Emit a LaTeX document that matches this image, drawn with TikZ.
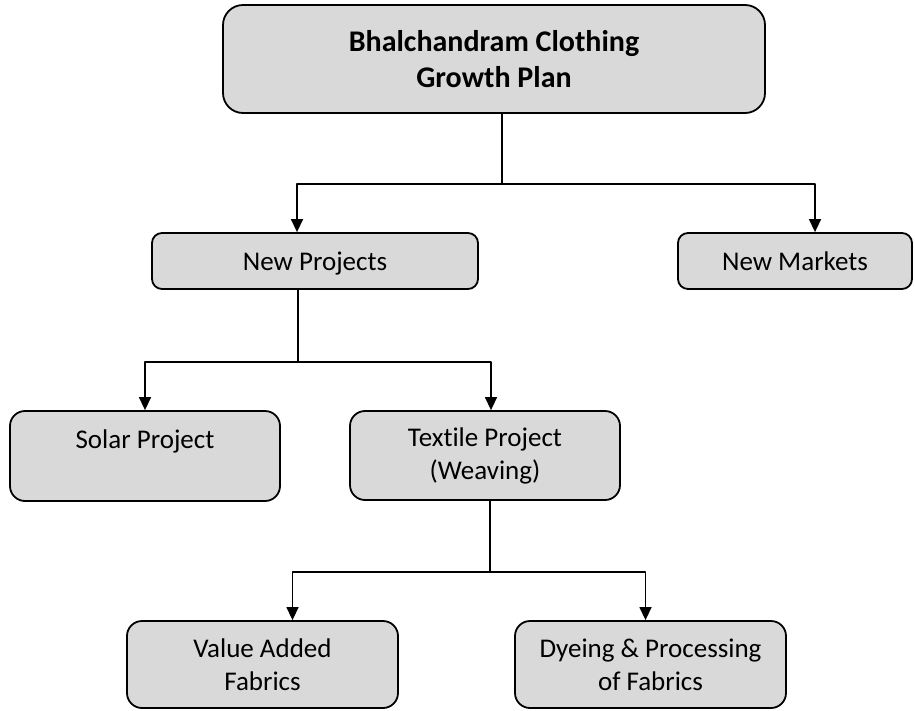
\documentclass[tikz,border=0pt]{standalone}
\usepackage{fontspec}
\setmainfont{Carlito}[Ligatures=NoCommon]
\usetikzlibrary{arrows.meta}
\definecolor{boxgray}{HTML}{D9D9D9}
\begin{document}
\begin{tikzpicture}[x=1pt,y=-1pt,line join=round,>={Triangle[length=13pt,width=12pt]},font=\fontsize{27}{33}\selectfont]
	\tikzset{orgbox/.style={draw,fill=boxgray,line width=1.8pt,align=center,inner sep=0pt,rounded corners=#1},orgbox/.default=15pt,
		conn/.style={line width=1.4pt}}
	\useasboundingbox (0,0) rectangle (915,710);
	\node[orgbox=20pt,minimum width=542pt,minimum height=108pt,font=\fontsize{30}{36}\selectfont\bfseries] (plan) at (494,59) {Bhalchandram Clothing\\Growth Plan};
	\node[orgbox=10pt,minimum width=326pt,minimum height=56pt,text depth=0pt] (np) at (315,261) {New Projects};
	\node[orgbox=10pt,minimum width=234pt,minimum height=56pt] (nm) at (795,261) {New Markets};
	\node[orgbox,minimum width=270pt,minimum height=90pt] (solar) at (145,456) {Solar Project\\~};
	\node[orgbox,minimum width=270pt,minimum height=89pt] (textile) at (485,455.5) {Textile Project\\(Weaving)};
	\node[orgbox,minimum width=271pt,minimum height=87pt] (va) at (262.5,664.5) {Value Added\\Fabrics};
	\node[orgbox,minimum width=271pt,minimum height=87pt] (dye) at (650.5,664.5) {Dyeing \& Processing\\of Fabrics};
	\coordinate (j1) at (502,184);
	\draw[conn] (plan.south -| j1)--(j1);
	\draw[conn,->] (j1) -| ([xshift=-18pt]np.north);
	\draw[conn,->] (j1) -| ([xshift=20pt]nm.north);
	\coordinate (j2) at (298,362);
	\draw[conn] (np.south -| j2)--(j2);
	\draw[conn,->] (j2) -| (solar.north);
	\draw[conn,->] (j2) -| ([xshift=6pt]textile.north);
	\coordinate (j3) at (490,572);
	\draw[conn] (textile.south -| j3)--(j3);
	\draw[conn,->] (j3) -| ([xshift=30pt]va.north);
	\draw[conn,->] (j3) -| ([xshift=-5pt]dye.north);
\end{tikzpicture}
\end{document}
